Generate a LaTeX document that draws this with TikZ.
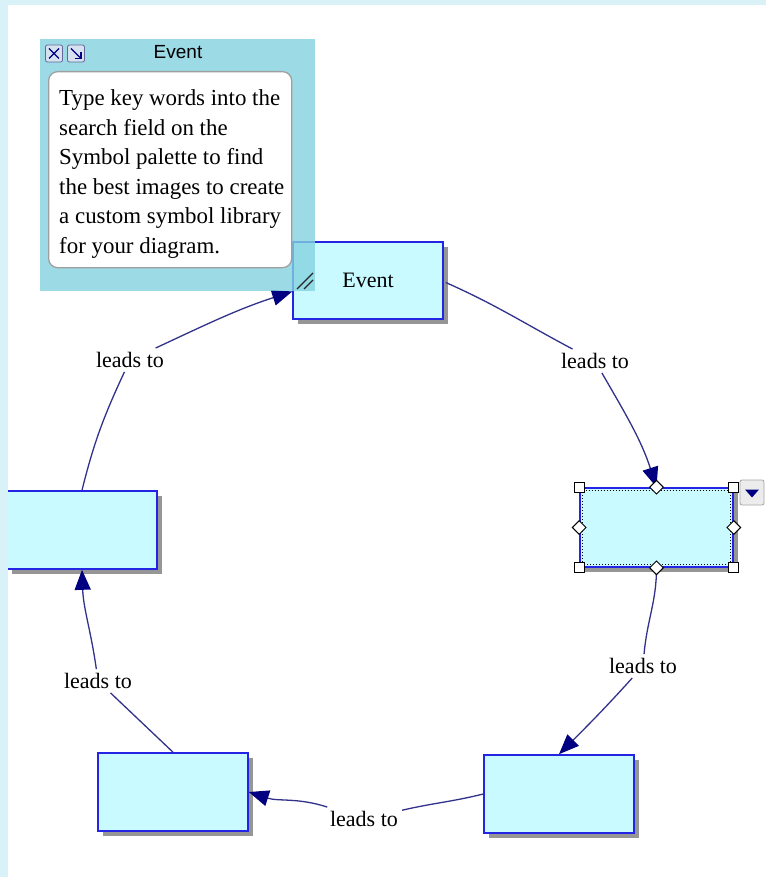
\documentclass[tikz,border=0pt]{standalone}
\usepackage{fontspec}
\setmainfont{Liberation Serif}
\newfontfamily\uisans{Liberation Sans}
\usetikzlibrary{arrows.meta,shadows,calc,shapes.geometric}
\definecolor{framecol}{RGB}{216,242,248}
\definecolor{nodefill}{RGB}{200,250,255}
\definecolor{nodeedge}{RGB}{36,36,228}
\definecolor{conn}{RGB}{50,50,140}
\definecolor{tipcol}{RGB}{0,0,128}
\definecolor{panelcol}{RGB}{132,211,224}
\definecolor{shadowgray}{RGB}{150,150,150}
\definecolor{btnfill}{RGB}{214,226,240}
\tikzset{
  evbox/.style={draw=nodeedge, line width=1.6pt, fill=nodefill,
    minimum width=150pt, minimum height=77pt, inner sep=0pt,
    general shadow={fill=shadowgray, shadow xshift=5pt, shadow yshift=-5pt},
    font=\fontsize{22}{26}\selectfont},
  lbl/.style={font=\fontsize{22}{26}\selectfont, inner sep=4pt},
  link/.style={draw=conn, line width=1.3pt},
  tipend/.style={-{Triangle[length=20pt,width=16pt,color=tipcol]}},
  hsq/.style={draw=black, fill=white, line width=1pt, minimum size=10pt, inner sep=0pt},
  hdia/.style={diamond, draw=black, fill=white, line width=1pt, minimum size=14pt, inner sep=0pt},
  btn/.style={draw=gray!80!blue, fill=btnfill, line width=0.8pt, rounded corners=2pt,
    minimum size=17pt, inner sep=0pt},
  notetext/.style={font=\fontsize{22.9}{29.6}\selectfont, align=left, inner sep=0pt},
}
\begin{document}
\begin{tikzpicture}[x=1pt,y=1pt]
\useasboundingbox (0,0) rectangle (766,-877);
\fill[framecol] (0,0) rectangle (766,-877);
\fill[white] (8,-5) rectangle (766,-877);

% nodes
\node[evbox] (ev) at (368,-280.5) {Event};
\node[evbox, minimum width=153pt, minimum height=79pt] (r) at (656.5,-527.5) {};
\node[evbox, minimum height=78pt] (l) at (82,-530) {};
\node[evbox, minimum height=78pt] (bl) at (173,-792) {};
\node[evbox, minimum height=78pt] (br) at (559,-794) {};

% labels
\node[lbl] (l1) at (595,-361) {leads to};
\node[lbl] (l2) at (643,-666) {leads to};
\node[lbl] (l3) at (364,-819) {leads to};
\node[lbl] (l4) at (98,-681) {leads to};
\node[lbl] (l5) at (130,-360) {leads to};

% connectors
\coordinate (evout) at ($(ev.east)+(2,-2)$);
\draw[link] (evout) to[out=-24,in=152] (l1);
\draw[link,tipend] (l1) to[out=-60,in=108] (r.north);
\draw[link] (r.south) to[out=-90,in=85] (l2);
\draw[link,tipend] (l2) to[out=-132,in=45] (br.north);
\draw[link] (br.west) to[out=-166,in=13] (l3);
\draw[link,tipend] (l3) to[out=162,in=-18] (bl.east);
\draw[link] (bl.north) -- (l4);
\draw[link,tipend] (l4) to[out=98,in=-88] (l.south);
\draw[link] (l.north) to[out=76,in=-115] (l5);
\coordinate (evin) at ($(ev.west)+(0,-11)$);
\draw[link,tipend] (l5) to[out=25,in=-162] (evin);

% selection decorations on right node
\draw[black, dotted, line width=1pt] ($(r.south west)+(3,3)$) rectangle ($(r.north east)+(-3,-3)$);
\node[hsq] (h1) at (r.north west) {};
\node[hsq] (h2) at (r.north east) {};
\node[hsq] (h3) at (r.south west) {};
\node[hsq] (h4) at (r.south east) {};
\node[hdia] (d1) at (r.north) {};
\node[hdia] (d2) at (r.south) {};
\node[hdia] (d3) at (r.west) {};
\node[hdia] (d4) at (r.east) {};
\node[draw=gray!70, fill=gray!15, line width=0.8pt, rounded corners=2pt,
  minimum width=24pt, minimum height=25pt, inner sep=0pt] (dd) at (752,-492.5) {};
\fill[tipcol] ($(dd.center)+(-7,3)$) -- ($(dd.center)+(7,3)$) -- ($(dd.center)+(0,-5)$) -- cycle;

% note panel
\fill[panelcol, fill opacity=0.8] (40,-39) rectangle (315,-291);
\node[font=\uisans\fontsize{19}{22}\selectfont, inner sep=0pt] (ptitle) at (178,-52) {Event};
\node[btn] (bx) at (54,-53.5) {};
\draw[tipcol, line width=1.3pt] ($(bx.center)+(-5,5)$) -- ($(bx.center)+(5,-5)$)
  ($(bx.center)+(-5,-5)$) -- ($(bx.center)+(5,5)$);
\node[btn] (bz) at (76,-53.5) {};
\draw[tipcol, line width=1.1pt] ($(bz.center)+(-5,5)$) -- ($(bz.center)+(4,-4)$);
\draw[tipcol, line width=1.1pt] ($(bz.center)+(5,1)$) -- ($(bz.center)+(5,-5)$) -- ($(bz.center)+(-1,-5)$);
\node[draw=gray!75, fill=white, line width=1.3pt, rounded corners=9pt,
  minimum width=243pt, minimum height=196pt, inner sep=0pt, anchor=north west] (note) at (48,-71) {};
\node[notetext, anchor=north west] (ntext) at (59,-89.5) {Type key words into the\\search field on the\\Symbol palette to find\\the best images to create\\a custom symbol library\\for your diagram.};
\draw[gray!30!black, line width=1.3pt] (297,-289) -- (313,-273) (304,-289) -- (313,-280);

% frame strips over the left node
\fill[framecol] (0,0) rectangle (8,-877);
\fill[framecol] (0,0) rectangle (766,-5);
\end{tikzpicture}
\end{document}
